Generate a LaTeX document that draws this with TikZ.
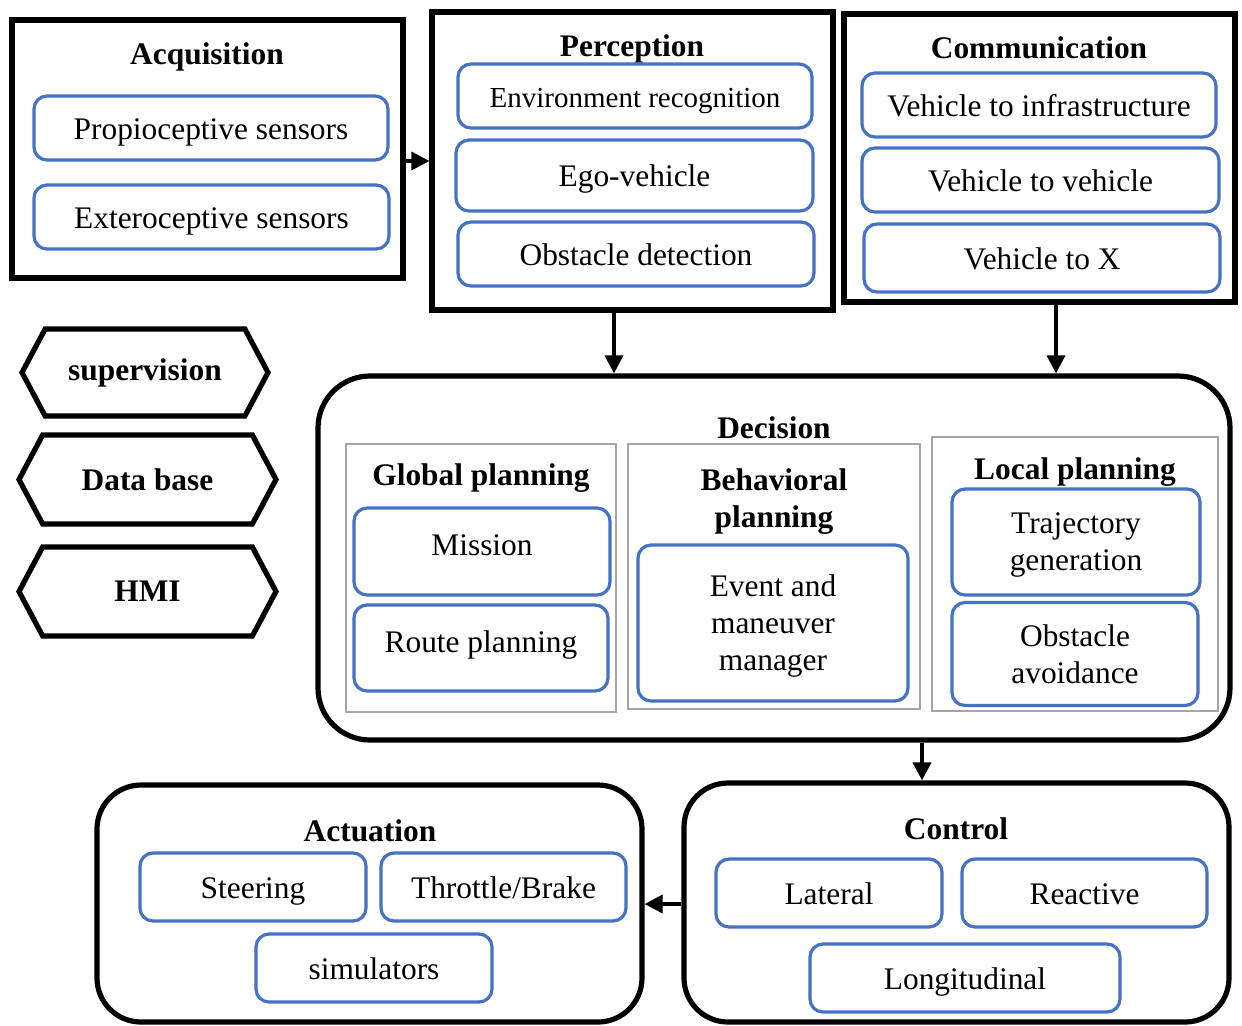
\documentclass[tikz,border=0pt]{standalone}
\usepackage{fontspec}
\setmainfont{Liberation Serif}
\usetikzlibrary{shapes.symbols,arrows.meta}
\definecolor{bl}{HTML}{4472C4}
\definecolor{gr}{HTML}{A6A6A6}
\tikzset{
  px/.style={x=0.5pt,y=-0.5pt},
  wh/.style 2 args={minimum width=#1*0.5pt,minimum height=#2*0.5pt},
  blackbox/.style={draw=black,line width=2.6pt,inner sep=0pt},
  roundbig/.style={blackbox,rounded corners=22pt},
  graybox/.style={draw=gr,line width=1.1pt,inner sep=0pt},
  bluebox/.style={draw=bl,line width=1.6pt,rounded corners=6.5pt,inner sep=0pt,align=center,text height=11pt,text depth=0pt,font=\fontsize{15.7}{18.5}\selectfont},
  ttl/.style={font=\fontsize{15.7}{18.5}\selectfont\bfseries,inner sep=0pt,align=center,text height=11pt,text depth=0pt},
  multi/.style={text height={},text depth=#1},
  hexa/.style={draw=black,line width=2.6pt,shape=signal,signal to=east and west,signal pointer angle=124,inner sep=0pt,font=\fontsize{15.7}{18.5}\selectfont\bfseries},
  arr/.style={line width=1.8pt,-{Triangle[length=9pt,width=9pt]}}
}
\begin{document}
\begin{tikzpicture}[px]
\useasboundingbox (0,0) rectangle (1242,1025);
% Acquisition
\node[blackbox,wh={391}{258}] (acq) at (207.5,149) {};
\node[ttl] (acqt) at (207,53) {Acquisition};
\node[bluebox,wh={354}{64}] (prop) at (211,128) {Propioceptive sensors};
\node[bluebox,wh={355}{64}] (extero) at (211.5,217) {Exteroceptive sensors};
% Perception
\node[blackbox,wh={401}{298}] (perc) at (632.5,161) {};
\node[ttl] (perct) at (632,45) {Perception};
\node[bluebox,wh={354}{64},font=\fontsize{14.5}{17}\selectfont] (env) at (635,96) {Environment recognition};
\node[bluebox,wh={357}{71}] (ego) at (634.5,175.5) {Ego-vehicle};
\node[bluebox,wh={356}{64}] (obst) at (636,254) {Obstacle detection};
% Communication
\node[blackbox,wh={391}{288}] (comm) at (1039.5,158) {};
\node[ttl] (commt) at (1039,47) {Communication};
\node[bluebox,wh={354}{64}] (v2i) at (1039,105) {Vehicle to infrastructure};
\node[bluebox,wh={357}{64}] (v2v) at (1040.5,180) {Vehicle to vehicle};
\node[bluebox,wh={356}{68}] (v2x) at (1042,258) {Vehicle to X};
% Hexagons
\node[hexa,wh={246}{87}] (sup) at (145,372.5) {supervision};
\node[hexa,wh={257}{89}] (db) at (147.5,479.5) {Data base};
\node[hexa,wh={257}{89}] (hmi) at (147.5,591.5) {HMI};
% Decision
\node[roundbig,rounded corners=26pt,wh={912}{364}] (dec) at (774,558) {};
\node[ttl] (dect) at (774,427) {Decision};
\node[graybox,wh={270}{268}] (glob) at (481,578) {};
\node[ttl] (globt) at (481,474) {Global planning};
\node[bluebox,wh={256}{87},text depth=7.5pt] (mission) at (482,551.5) {Mission};
\node[bluebox,wh={254}{86},text depth=7pt] (route) at (481,648) {Route planning};
\node[graybox,wh={292}{265}] (beh) at (774,576.5) {};
\node[ttl,multi=0pt] (beht) at (774,498) {Behavioral\\planning};
\node[bluebox,multi=-0.5pt,wh={270}{156}] (event) at (773,623) {Event and\\maneuver\\manager};
\node[graybox,wh={286}{274}] (loc) at (1075,574) {};
\node[ttl] (loct) at (1075,468) {Local planning};
\node[bluebox,multi=-3pt,wh={248}{106}] (traj) at (1076,542) {Trajectory\\generation};
\node[bluebox,multi=-2pt,wh={246}{103}] (obav) at (1075,654) {Obstacle\\avoidance};
% Actuation
\node[roundbig,wh={545}{237}] (act) at (369.5,903.5) {};
\node[ttl] (actt) at (370,830) {Actuation};
\node[bluebox,wh={226}{68}] (steer) at (253,887) {Steering};
\node[bluebox,wh={245}{68}] (thr) at (503.5,887) {Throttle/Brake};
\node[bluebox,wh={236}{68}] (sim) at (374,968) {simulators};
% Control
\node[roundbig,wh={545}{239}] (ctrl) at (956.5,902.5) {};
\node[ttl] (ctrlt) at (956,828) {Control};
\node[bluebox,wh={226}{68}] (lat) at (829,893) {Lateral};
\node[bluebox,wh={245}{68}] (react) at (1084.5,893) {Reactive};
\node[bluebox,wh={310}{68}] (long) at (965,978) {Longitudinal};
% Arrows
\draw[arr] (acq.east |- 0,161) -- (perc.west |- 0,161);
\draw[arr] (perc.south -| 614,0) -- (dec.north -| 614,0);
\draw[arr] (comm.south -| 1056,0) -- (dec.north -| 1056,0);
\draw[arr] (dec.south -| 922,0) -- (ctrl.north -| 922,0);
\draw[arr] (ctrl.west |- 0,904) -- (act.east |- 0,904);
\end{tikzpicture}
\end{document}
